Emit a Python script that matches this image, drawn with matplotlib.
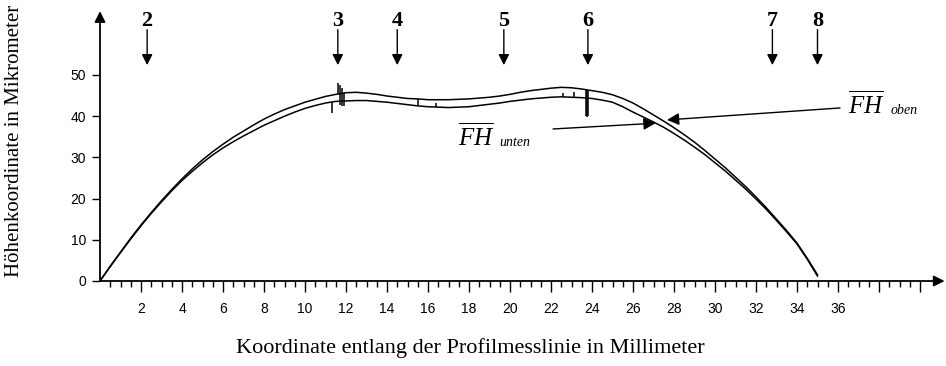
import numpy as np
import matplotlib.pyplot as plt

plt.rcParams['mathtext.fontset'] = 'custom'
plt.rcParams['mathtext.rm'] = 'Liberation Serif'
plt.rcParams['mathtext.it'] = 'Liberation Serif:italic'

# profile positions in mm (every 0.5 mm) and the two height profiles in micrometer
x_mm = np.arange(0, 35.01, 0.5)
fh_oben = [0, 3.6, 7.0, 10.4, 13.6, 16.6, 19.5, 22.2, 24.8, 27.2,
           29.4, 31.4, 33.2, 34.9, 36.4, 37.9, 39.3, 40.5, 41.6, 42.5,
           43.4, 44.1, 44.8, 45.3, 45.7, 45.8, 45.6, 45.3, 44.9, 44.6,
           44.3, 44.2, 44.0, 44.0, 44.0, 44.1, 44.2, 44.4, 44.6, 44.9,
           45.3, 45.8, 46.2, 46.5, 46.8, 47.0, 46.9, 46.6, 46.2, 45.8,
           45.2, 44.3, 43.2, 41.8, 40.3, 38.8, 37.2, 35.5, 33.7, 31.7,
           29.6, 27.5, 25.2, 22.9, 20.4, 17.8, 15.0, 12.2, 9.2, 5.5,
           1.5]
fh_unten = [0, 3.5, 6.9, 10.2, 13.4, 16.4, 19.2, 21.9, 24.4, 26.6,
            28.7, 30.6, 32.3, 33.8, 35.2, 36.5, 37.8, 38.9, 40.0, 41.0,
            41.9, 42.6, 43.2, 43.6, 43.7, 43.8, 43.8, 43.6, 43.4, 43.1,
            42.8, 42.5, 42.3, 42.2, 42.1, 42.2, 42.3, 42.6, 42.9, 43.2,
            43.6, 43.9, 44.2, 44.4, 44.6, 44.7, 44.6, 44.5, 44.3, 43.9,
            43.4, 42.3, 41.0, 39.8, 38.6, 37.3, 35.8, 34.2, 32.5, 30.7,
            28.7, 26.7, 24.5, 22.3, 19.9, 17.4, 14.7, 11.9, 9.0, 5.3,
            1.2]

# measurement spikes: position, low end, high end
spike_x = [11.3, 11.6, 11.7, 11.8, 11.9, 15.5, 16.4, 22.6, 23.1, 23.7, 23.75, 23.8]
spike_lo = [40.8, 45.3, 42.6, 42.4, 42.5, 42.5, 42.2, 44.7, 44.6, 40.0, 39.8, 40.0]
spike_hi = [43.5, 48.0, 47.6, 46.8, 45.7, 44.2, 43.3, 45.6, 45.8, 46.4, 46.3, 46.2]

# measuring positions marked with arrows
marker_x = [2.3, 11.6, 14.5, 19.7, 23.8, 32.8, 35.0]
marker_labels = ['2', '3', '4', '5', '6', '7', '8']

xticks = np.arange(2, 41, 2)
xtick_labels = [str(v) if v <= 36 else '' for v in xticks]
yticks = [0, 10, 20, 30, 40, 50]

fig = plt.figure(figsize=(9.46, 3.66), dpi=100)
ax = fig.add_axes([100 / 946, 85 / 366, 846 / 946, 281 / 366])
ax.set_xlim(0, 846 / 20.5)
ax.set_ylim(0, 281 / 4.12)
for s in ax.spines.values():
    s.set_visible(False)

ax.plot(x_mm, fh_oben, color='black', lw=1.1)
ax.plot(x_mm, fh_unten, color='black', lw=1.1)
ax.vlines(spike_x, spike_lo, spike_hi, color='black', lw=1.1)

# axes with arrow heads
ax.annotate('', xy=(41.2, 0), xytext=(0, 0), annotation_clip=False,
            arrowprops=dict(arrowstyle='-|>', color='black', lw=1.3, mutation_scale=16, shrinkA=0, shrinkB=0))
ax.annotate('', xy=(0, 65.5), xytext=(0, 0), annotation_clip=False,
            arrowprops=dict(arrowstyle='-|>', color='black', lw=1.3, mutation_scale=16, shrinkA=0, shrinkB=0))

ax.set_xticks(xticks)
ax.set_xticklabels(xtick_labels, family='Liberation Sans', fontsize=10)
ax.set_xticks(np.arange(0.5, 40.1, 0.5), minor=True)
ax.tick_params(axis='x', which='major', length=8, width=1, pad=7)
ax.tick_params(axis='x', which='minor', length=4, width=1)
ax.set_yticks(yticks)
ax.set_yticklabels([str(v) for v in yticks], family='Liberation Sans', fontsize=10)
ax.tick_params(axis='y', length=6, width=1, pad=4)

for mx, ml in zip(marker_x, marker_labels):
    ax.annotate('', xy=(mx, 52.4), xytext=(mx, 61.0),
                arrowprops=dict(arrowstyle='-|>', color='black', lw=1, mutation_scale=16, shrinkA=0, shrinkB=0))
    ax.text(mx, 63.2, ml, ha='center', va='center', family='Liberation Serif',
            fontweight='bold', fontsize=16)

# FH annotations
ax.annotate('', xy=(27.1, 38.3), xytext=(22.1, 36.9),
            arrowprops=dict(arrowstyle='-|>', color='black', lw=1, mutation_scale=18, shrinkA=0, shrinkB=0))
ax.annotate('', xy=(27.66, 39.1), xytext=(36.1, 42.0),
            arrowprops=dict(arrowstyle='-|>', color='black', lw=1, mutation_scale=18, shrinkA=0, shrinkB=0))
ax.text(17.45, 32.8, r'$\overline{FH}$', fontsize=18, ha='left', va='baseline')
ax.text(19.5, 32.8, 'unten', family='Liberation Serif', style='italic', fontsize=10, ha='left', va='baseline')
ax.text(36.5, 40.6, r'$\overline{FH}$', fontsize=18, ha='left', va='baseline')
ax.text(38.55, 40.6, 'oben', family='Liberation Serif', style='italic', fontsize=10, ha='left', va='baseline')

fig.text(470 / 946, 1 - 348 / 366, 'Koordinate entlang der Profilmesslinie in Millimeter',
         family='Liberation Serif', fontsize=16, ha='center', va='center')
fig.text(15 / 946, 1 - 141 / 366, 'Höhenkoordinate in Mikrometer',
         family='Liberation Serif', fontsize=15, ha='center', va='center', rotation=90)

fig.savefig('out.png', dpi=100)
